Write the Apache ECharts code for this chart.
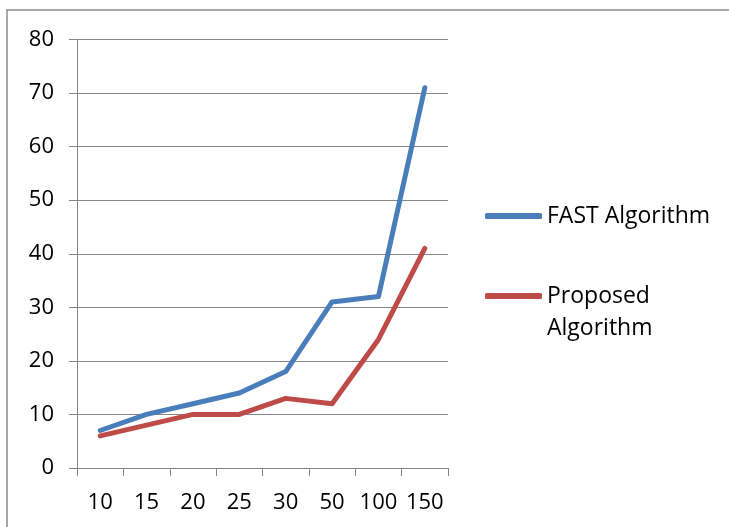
<!DOCTYPE html>
<html>
<head>
<meta charset="utf-8">
<script src="https://cdn.jsdelivr.net/npm/echarts@6/dist/echarts.min.js"></script>
<style>html,body{margin:0;padding:0;background:#fff;}#c{width:729px;height:527px;}</style>
</head>
<body>
<div id="c"></div>
<script>
var categories = ['10', '15', '20', '25', '30', '50', '100', '150'];
var fastValues = [7, 10, 12, 14, 18, 31, 32, 71];
var proposedValues = [6, 8, 10, 10, 13, 12, 24, 41];
var seriesNames = ['FAST Algorithm', 'Proposed Algorithm'];

var FONT = '"Open Sans", "Noto Sans", sans-serif';
var gridColor = '#868686';
var chart = echarts.init(document.getElementById('c'), null, {renderer: 'canvas'});
chart.setOption({
  animation: false,
  backgroundColor: '#fff',
  graphic: [{
    type: 'rect',
    shape: {x: 7, y: 10, width: 900, height: 700},
    style: {fill: 'none', stroke: '#8c8c8c', lineWidth: 1.5},
    silent: true, z: -10
  }],
  grid: {left: 77, right: 281, top: 39.5, bottom: 59, containLabel: false},
  legend: [{
    data: [seriesNames[0]],
    orient: 'vertical',
    left: 485, top: 200, padding: 0,
    icon: 'roundRect', itemWidth: 57, itemHeight: 6,
    textStyle: {fontFamily: FONT, fontSize: 23, color: '#000', lineHeight: 32}
  }, {
    data: [seriesNames[1]],
    orient: 'vertical',
    left: 485, top: 248, padding: 0,
    icon: 'roundRect', itemWidth: 57, itemHeight: 6,
    formatter: function (n) { return '\n' + n.replace(' ', '\n'); },
    textStyle: {fontFamily: FONT, fontSize: 23, color: '#000', lineHeight: 32}
  }],
  xAxis: {
    type: 'category',
    data: categories,
    boundaryGap: true,
    axisLine: {show: true, lineStyle: {color: gridColor, width: 1}},
    axisTick: {show: true, length: 8, interval: 0, lineStyle: {color: gridColor}},
    axisLabel: {interval: 0, margin: 24, color: '#000', fontFamily: FONT, fontSize: 22}
  },
  yAxis: {
    type: 'value',
    min: 0, max: 80, interval: 10,
    axisLine: {show: true, lineStyle: {color: gridColor, width: 1}},
    axisTick: {show: true, length: 8, lineStyle: {color: gridColor}},
    splitLine: {show: true, lineStyle: {color: gridColor, width: 1}},
    axisLabel: {margin: 23, color: '#000', fontFamily: FONT, fontSize: 22}
  },
  series: [{
    name: seriesNames[0], type: 'line', data: fastValues,
    symbol: 'none', itemStyle: {color: '#4A7EBB'},
    lineStyle: {color: '#4A7EBB', width: 5, cap: 'round', join: 'round'}
  }, {
    name: seriesNames[1], type: 'line', data: proposedValues,
    symbol: 'none', itemStyle: {color: '#BE4B48'},
    lineStyle: {color: '#BE4B48', width: 5, cap: 'round', join: 'round'}
  }]
});
</script>
</body>
</html>
